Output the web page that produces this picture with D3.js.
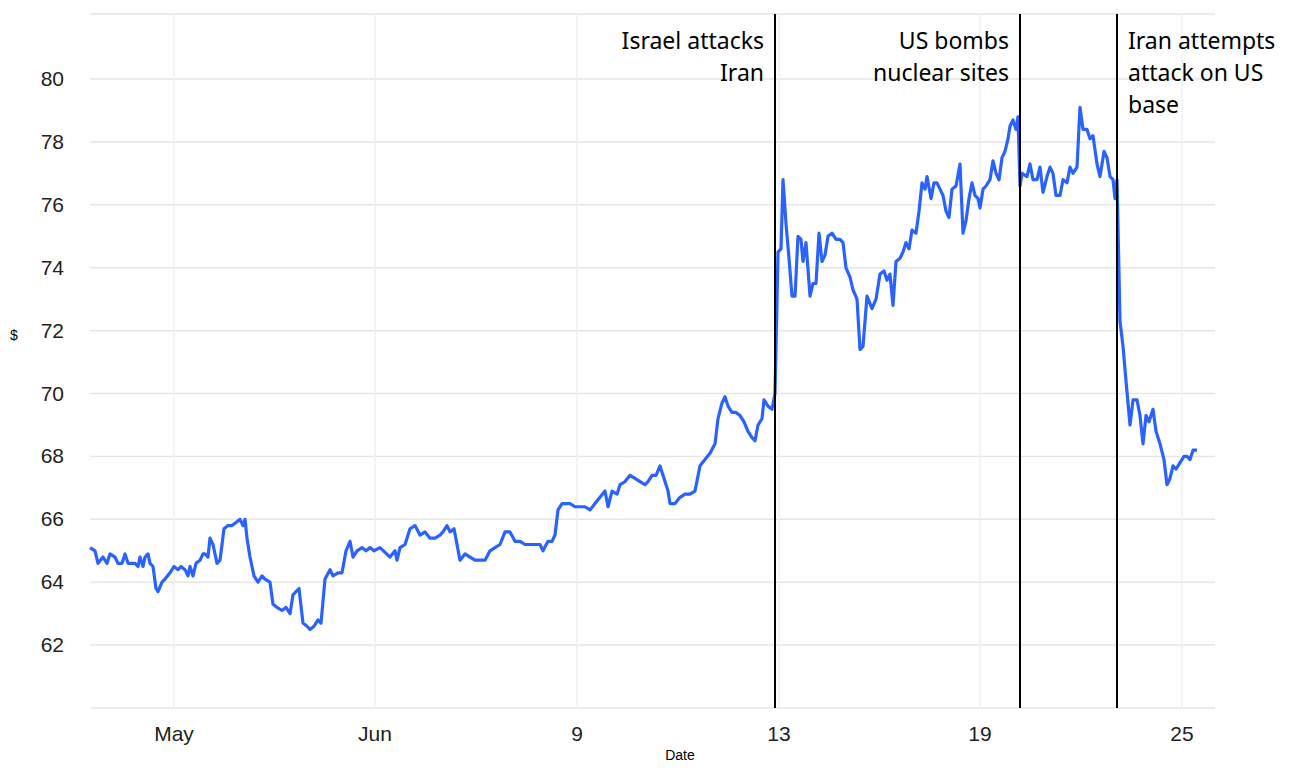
<!DOCTYPE html>
<html><head><meta charset="utf-8">
<script src="https://cdn.jsdelivr.net/npm/d3@7"></script>
<style>body{margin:0;background:#fff}</style></head>
<body><svg id="c" width="1292" height="770"></svg>
<script>
// observation index (trading-time position) and price
const obs = [90,95,98,103,107,110,115,118,122,125,128,135,138,140,143,145,148,150,153,156,158,162,165,170,174,178,181,185,188,190,193,196,200,203,205,208,210,213,217,220,224,228,232,236,240,243,245,247,250,254,258,262,265,270,273,277,282,286,290,293,296,299,303,307,310,314,318,321,325,330,333,338,342,346,350,353,357,362,366,370,374,380,390,395,397,400,405,410,415,420,425,430,435,440,443,447,450,454,457,460,465,470,475,480,485,490,495,500,505,510,515,520,525,530,535,540,543,548,552,555,558,562,565,570,575,580,585,590,595,600,605,608,612,617,620,625,630,635,640,645,648,652,656,660,663,668,670,675,680,685,690,695,700,705,710,715,718,722,725,728,732,736,740,744,748,752,755,758,762,764,768,772,775,777,778,781,783,786,789,792,795,798,801,803,806,810,813,816,819,822,825,828,832,836,840,843,846,850,853,857,860,863,867,872,876,880,884,887,890,893,896,900,903,906,909,912,916,919,922,925,927,931,934,937,940,943,946,949,952,956,960,963,966,969,972,975,978,980,983,986,990,993,996,999,1002,1005,1008,1010,1013,1016,1018,1020,1022,1027,1030,1033,1037,1040,1043,1047,1050,1053,1056,1060,1063,1067,1070,1073,1077,1080,1083,1087,1090,1093,1097,1100,1104,1107,1110,1113,1115,1117,1120,1123,1126,1130,1133,1137,1140,1143,1146,1149,1153,1156,1160,1164,1167,1170,1173,1176,1180,1184,1187,1190,1193,1197];
const price = [65.1,65.0,64.6,64.8,64.6,64.9,64.8,64.6,64.6,64.9,64.6,64.6,64.5,64.8,64.5,64.8,64.9,64.6,64.5,63.8,63.7,64.0,64.1,64.3,64.5,64.4,64.5,64.4,64.2,64.5,64.2,64.6,64.7,64.9,64.9,64.8,65.4,65.2,64.6,64.7,65.7,65.8,65.8,65.9,66.0,65.8,66.0,65.4,64.8,64.2,64.0,64.2,64.1,64.0,63.3,63.2,63.1,63.2,63.0,63.6,63.7,63.8,62.7,62.6,62.5,62.6,62.8,62.7,64.1,64.4,64.2,64.3,64.3,65.0,65.3,64.8,65.0,65.1,65.0,65.1,65.0,65.1,64.8,65.0,64.7,65.1,65.2,65.7,65.8,65.5,65.6,65.4,65.4,65.5,65.6,65.8,65.6,65.7,65.2,64.7,64.9,64.8,64.7,64.7,64.7,65.0,65.1,65.2,65.6,65.6,65.3,65.3,65.2,65.2,65.2,65.2,65.0,65.3,65.3,65.5,66.3,66.5,66.5,66.5,66.4,66.4,66.4,66.3,66.5,66.7,66.9,66.4,66.9,66.8,67.1,67.2,67.4,67.3,67.2,67.1,67.2,67.4,67.4,67.7,67.4,66.9,66.5,66.5,66.7,66.8,66.8,66.9,67.7,67.9,68.1,68.4,69.2,69.7,69.9,69.6,69.4,69.4,69.3,69.1,68.8,68.6,68.5,69.0,69.2,69.8,69.6,69.5,70.0,73.0,74.5,74.6,76.8,75.4,74.3,73.1,73.1,75.0,74.9,74.2,74.8,73.1,73.5,73.5,75.1,74.2,74.4,75.0,75.1,74.9,74.9,74.8,74.0,73.7,73.3,73.0,71.4,71.5,73.1,72.7,73.0,73.8,73.9,73.6,73.8,72.8,74.2,74.3,74.5,74.8,74.6,75.2,75.1,75.8,76.7,76.5,76.9,76.2,76.7,76.7,76.5,76.3,75.8,75.6,76.5,76.6,77.3,75.1,75.5,76.2,76.7,76.3,76.2,75.9,76.5,76.6,76.8,77.4,77.0,76.8,77.5,77.7,78.1,78.5,78.7,78.4,78.8,76.6,77.0,76.9,77.3,76.8,76.8,77.2,76.4,76.9,77.2,77.0,76.3,76.3,76.8,76.7,77.2,77.0,77.2,79.1,78.4,78.4,78.1,78.2,77.3,76.9,77.7,77.5,76.9,76.8,76.2,76.8,72.3,71.5,70.4,69.0,69.8,69.8,69.3,68.4,69.3,69.1,69.5,68.8,68.4,67.9,67.1,67.3,67.7,67.6,67.8,68.0,68.0,67.9,68.2,68.2];
const tickObs = [174,375,577,779,980,1182];
const tickLabels = ["May","Jun","9","13","19","25"];
const yTicks = [62,64,66,68,70,72,74,76,78,80];
const events = [
  {obs:775, lines:["Israel attacks","Iran"], side:"left"},
  {obs:1020, lines:["US bombs","nuclear sites"], side:"left"},
  {obs:1117, lines:["Iran attempts","attack on US","base"], side:"right"}
];

const svg = d3.select("#c");
const L=90, R=1215, T=14, B=708;
const yMin=60.0, yMax=82.07;
const x = d3.scaleLinear().domain([90,1215]).range([L,R]);
const y = d3.scaleLinear().domain([yMin,yMax]).range([B,T]);

svg.append("g").selectAll("line").data(yTicks.concat([yMax,yMin])).join("line")
  .attr("x1",L).attr("x2",R).attr("y1",d=>y(d)).attr("y2",d=>y(d))
  .attr("stroke","#e6e6e6").attr("stroke-width",1.5);
svg.append("g").selectAll("line").data(tickObs).join("line")
  .attr("x1",d=>x(d)).attr("x2",d=>x(d)).attr("y1",T).attr("y2",B)
  .attr("stroke","#eef0f3").attr("stroke-width",1.5);

const ff = "Liberation Sans, Arial, sans-serif";
svg.append("g").selectAll("text").data(yTicks).join("text")
  .attr("x",64).attr("y",d=>y(d)+7).attr("text-anchor","end")
  .attr("font-family",ff).attr("font-size",21).attr("fill","#222").text(d=>d);
svg.append("g").selectAll("text").data(tickObs).join("text")
  .attr("x",d=>x(d)).attr("y",741).attr("text-anchor","middle")
  .attr("font-family",ff).attr("font-size",21).attr("fill","#222").text((d,i)=>tickLabels[i]);
svg.append("text").attr("x",14).attr("y",340).attr("text-anchor","middle")
  .attr("font-family",ff).attr("font-size",14).text("$");
svg.append("text").attr("x",680).attr("y",760).attr("text-anchor","middle")
  .attr("font-family",ff).attr("font-size",14).text("Date");

const line = d3.line().x((d,i)=>x(obs[i])).y(d=>y(d)).curve(d3.curveLinear);
svg.append("path").datum(price).attr("d",line).attr("fill","none")
  .attr("stroke","#2962ff").attr("stroke-width",3.2).attr("stroke-linejoin","round");

const ef = "Noto Sans, Open Sans, sans-serif";
events.forEach(e=>{
  svg.append("line").attr("x1",x(e.obs)).attr("x2",x(e.obs)).attr("y1",T).attr("y2",B)
    .attr("stroke","#000").attr("stroke-width",2);
  const t = svg.append("text").attr("font-family",ef).attr("font-size",23).attr("fill","#000")
    .attr("text-anchor", e.side==="left"?"end":"start");
  e.lines.forEach((s,i)=>t.append("tspan").attr("x", x(e.obs)+(e.side==="left"?-11:11))
    .attr("y",49+i*32).text(s));
});
</script></body></html>
